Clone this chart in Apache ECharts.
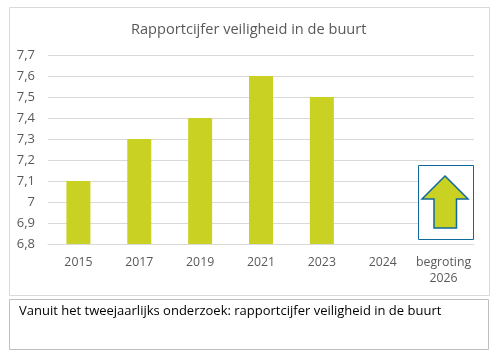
<!DOCTYPE html>
<html>
<head>
<meta charset="utf-8">
<style>
  html, body { margin: 0; padding: 0; background: #fff; }
  #chart { width: 491px; height: 357px; }
</style>
<script src="https://cdn.jsdelivr.net/npm/echarts@6/dist/echarts.min.js"></script>
</head>
<body>
<div id="chart"></div>
<script>
const categories = ['2015', '2017', '2019', '2021', '2023', '2024', 'begroting\n2026'];
const scores = [7.1, 7.3, 7.4, 7.6, 7.5, null, null];
const titleText = 'Rapportcijfer veiligheid in de buurt';
const noteText = 'Vanuit het tweejaarlijks onderzoek: rapportcijfer veiligheid in de buurt';

const font = '"Open Sans", "Noto Sans", sans-serif';
const chart = echarts.init(document.getElementById('chart'), null, { renderer: 'canvas' });

chart.setOption({
    animation: false,
    backgroundColor: '#fff',
    title: {
        text: titleText,
        left: 126,
        top: 17,
        textStyle: { color: '#595959', fontSize: 14.6, fontWeight: 'normal', fontFamily: font }
    },
    grid: { left: 48, right: 17, top: 55, height: 189, containLabel: false },
    xAxis: {
        type: 'category',
        data: categories,
        axisLine: { lineStyle: { color: '#d9d9d9' } },
        axisTick: { show: false },
        axisLabel: { color: '#595959', fontSize: 12.3, fontFamily: font, margin: 10, lineHeight: 16, interval: 0 }
    },
    yAxis: {
        type: 'value',
        min: 6.8,
        max: 7.7,
        interval: 0.1,
        axisLine: { show: false },
        axisTick: { show: false },
        splitLine: { lineStyle: { color: '#d9d9d9' } },
        axisLabel: {
            color: '#595959',
            fontSize: 13,
            fontFamily: font,
            margin: 13,
            formatter: v => String(Math.round(v * 10) / 10).replace('.', ',')
        }
    },
    series: [{
        type: 'bar',
        data: scores,
        barWidth: 24,
        itemStyle: { color: '#c9d122' }
    }],
    graphic: [
        // kader om de grafiek
        { type: 'rect', z: -1, shape: { x: 9.5, y: 7.5, width: 480, height: 288 }, style: { fill: 'none', stroke: '#d9d9d9' } },
        // tekstvak onder de grafiek
        { type: 'rect', shape: { x: 9.5, y: 299.5, width: 479, height: 50 }, style: { fill: '#fff', stroke: '#bfbfbf' } },
        { type: 'text', style: { x: 19, y: 305, text: noteText, fill: '#000', fontSize: 13, fontFamily: font } },
        // pijl omhoog
        { type: 'rect', z: 10, shape: { x: 418.5, y: 165.5, width: 55, height: 74 }, style: { fill: '#fff', stroke: '#0f6a9c', lineWidth: 1 } },
        {
            type: 'polygon', z: 11,
            shape: { points: [[445, 176], [468, 199], [456.5, 199], [456.5, 228], [434, 228], [434, 199], [422, 199]] },
            style: { fill: '#c9d122', stroke: '#0f6a9c', lineWidth: 1.5 }
        }
    ]
});
</script>
</body>
</html>
